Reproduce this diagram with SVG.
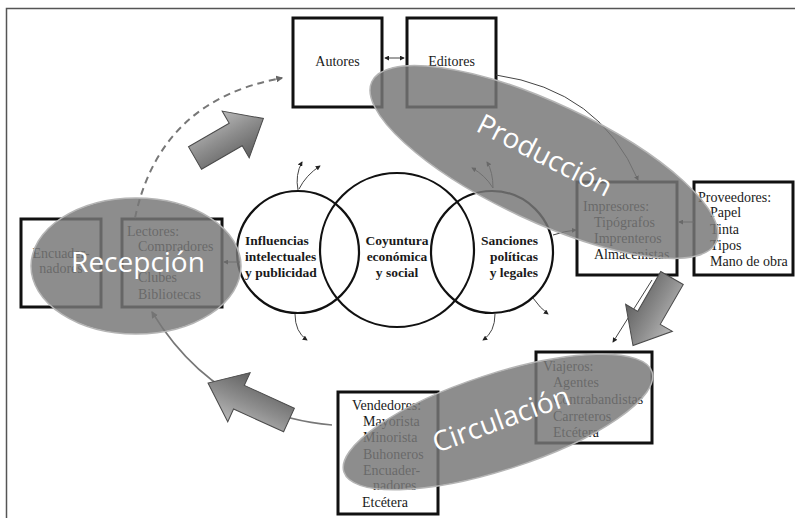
<svg xmlns="http://www.w3.org/2000/svg" width="795" height="518" viewBox="0 0 795 518">
<style>
.box{fill:#fff;stroke:#111;stroke-width:3}
.t{font-family:"Liberation Serif","Times New Roman",serif;font-size:14px;fill:#1a1a1a}
.tc{font-family:"Liberation Serif","Times New Roman",serif;font-size:13.5px;fill:#1a1a1a;font-weight:bold}
.circ{fill:none;stroke:#111;stroke-width:2.2}
.thin{fill:none;stroke:#444;stroke-width:1}
.arc{fill:none;stroke:#777;stroke-width:1.6}
.ell{fill:#777;fill-opacity:0.84;stroke:#b5b5b5;stroke-width:1.5}
.lab{font-family:"Open Sans","Liberation Sans",sans-serif;font-size:28px;fill:#fff}
.fat{fill:url(#g);stroke:#4a4a4a;stroke-width:1}
</style>
<defs>
<marker id="ah" viewBox="0 0 6 6" refX="5" refY="3" markerWidth="5" markerHeight="5" orient="auto-start-reverse" markerUnits="userSpaceOnUse"><path d="M0,0 L6,3 L0,6 z" fill="#222"/></marker>
<marker id="ag" viewBox="0 0 6 6" refX="5" refY="3" markerWidth="7" markerHeight="7" orient="auto" markerUnits="userSpaceOnUse"><path d="M0,0 L6,3 L0,6 z" fill="#666"/></marker>
<linearGradient id="g" x1="0" y1="0" x2="0" y2="1">
<stop offset="0" stop-color="#b8b8b8"/>
<stop offset="0.45" stop-color="#8e8e8e"/>
<stop offset="1" stop-color="#606060"/>
</linearGradient>
</defs>
<rect width="795" height="518" fill="#fff"/>
<path d="M6.5,518 V8.5 H795" fill="none" stroke="#555" stroke-width="1.5"/>

<g id="autores"><rect class="box" x="293" y="18" width="89" height="89"/><text class="t" x="337.5" y="66" text-anchor="middle">Autores</text></g>
<g id="editores"><rect class="box" x="407" y="18" width="89" height="89"/><text class="t" x="451.5" y="66" text-anchor="middle">Editores</text></g>

<g id="impresores"><rect class="box" x="577" y="182" width="100" height="93"/>
<text class="t" x="583" y="211">Impresores:</text>
<text class="t" x="594" y="227">Tipógrafos</text>
<text class="t" x="594" y="243">Imprenteros</text>
<text class="t" x="594" y="259">Almacenistas</text></g>

<g id="proveedores"><rect class="box" x="694" y="182" width="99" height="93"/>
<text class="t" x="698" y="202">Proveedores:</text>
<text class="t" x="710" y="217">Papel</text>
<text class="t" x="710" y="234">Tinta</text>
<text class="t" x="710" y="250">Tipos</text>
<text class="t" x="710" y="266">Mano de obra</text></g>

<g id="lectores"><rect class="box" x="122" y="219" width="100" height="88"/>
<text class="t" x="127" y="236">Lectores:</text>
<text class="t" x="138" y="251">Compradores</text>
<text class="t" x="138" y="282">Clubes</text>
<text class="t" x="138" y="299">Bibliotecas</text></g>

<g id="encuadernadores"><rect class="box" x="21" y="219" width="80" height="88"/>
<text class="t" x="61" y="258" text-anchor="middle">Encuader-</text>
<text class="t" x="61" y="273" text-anchor="middle">nadores</text></g>

<g id="vendedores"><rect class="box" x="338" y="392" width="100" height="122"/>
<text class="t" x="352" y="410">Vendedores:</text>
<text class="t" x="363" y="426">Mayorista</text>
<text class="t" x="363" y="442">Minorista</text>
<text class="t" x="363" y="459">Buhoneros</text>
<text class="t" x="363" y="475">Encuader-</text>
<text class="t" x="373" y="490">nadores</text>
<text class="t" x="362" y="507">Etcétera</text></g>

<g id="viajeros"><rect class="box" x="536" y="352" width="116" height="91"/>
<text class="t" x="543" y="371">Viajeros:</text>
<text class="t" x="553" y="387">Agentes</text>
<text class="t" x="553" y="404">Contrabandistas</text>
<text class="t" x="553" y="421">Carreteros</text>
<text class="t" x="553" y="437">Etcétera</text></g>

<g id="influencias"><circle class="circ" cx="298" cy="252" r="61"/>
<text class="tc" x="245" y="245">Influencias</text>
<text class="tc" x="245" y="261">intelectuales</text>
<text class="tc" x="245" y="277">y publicidad</text></g>
<g id="coyuntura"><circle class="circ" cx="397" cy="250" r="77"/>
<text class="tc" x="397" y="245" text-anchor="middle">Coyuntura</text>
<text class="tc" x="397" y="261" text-anchor="middle">económica</text>
<text class="tc" x="397" y="277" text-anchor="middle">y social</text></g>
<g id="sanciones"><circle class="circ" cx="492" cy="252" r="61"/>
<text class="tc" x="538" y="245" text-anchor="end">Sanciones</text>
<text class="tc" x="538" y="261" text-anchor="end">políticas</text>
<text class="tc" x="538" y="277" text-anchor="end">y legales</text></g>

<g id="connectors">
<line class="thin" x1="385" y1="58" x2="404" y2="58" marker-start="url(#ah)" marker-end="url(#ah)"/>
<path class="thin" d="M496,75 Q600,90 638,180" marker-end="url(#ah)"/>
<line class="thin" x1="694" y1="222" x2="679" y2="222" marker-end="url(#ah)"/>
<path class="thin" d="M553,235 Q565,231 576,230" marker-end="url(#ah)"/>
<line class="thin" x1="240" y1="262" x2="224" y2="262" marker-end="url(#ah)"/>
<line class="thin" x1="652" y1="280" x2="613" y2="342" marker-end="url(#ah)"/>
<path class="thin" d="M298,190 Q295,175 302,162" marker-end="url(#ah)"/>
<path class="thin" d="M299,189 Q306,175 320,166" marker-end="url(#ah)"/>
<path class="thin" d="M493,188 Q485,175 472,168" marker-end="url(#ah)"/>
<path class="thin" d="M493,188 Q493,172 487,162" marker-end="url(#ah)"/>
<path class="thin" d="M295,314 Q295,332 307,340" marker-end="url(#ah)"/>
<path class="thin" d="M495,314 Q495,332 483,340" marker-end="url(#ah)"/>
<path class="thin" d="M533,298 Q540,308 548,314" marker-end="url(#ah)"/>
<path d="M135,218 Q160,100 282,78" fill="none" stroke="#777" stroke-width="2" stroke-dasharray="7,5" marker-end="url(#ag)"/>
<path class="arc" d="M332,425 Q215,415 152,312" marker-end="url(#ag)"/>
</g>

<g id="produccion"><ellipse class="ell" cx="544" cy="162" rx="190" ry="59" transform="rotate(25 544 162)"/>
<text class="lab" text-anchor="middle" transform="translate(545,155) rotate(27)" y="10">Producción</text></g>
<g id="recepcion"><ellipse class="ell" cx="136" cy="266" rx="105" ry="68"/>
<text class="lab" x="138" y="272" text-anchor="middle">Recepción</text></g>
<g id="circulacion"><ellipse class="ell" cx="498" cy="422" rx="162" ry="48" transform="rotate(-18 498 422)"/>
<text class="lab" text-anchor="middle" transform="translate(501,419) rotate(-20)" y="10">Circulación</text></g>

<g id="fat-arrows">
<path class="fat" transform="translate(195,158) rotate(-30)" d="M0,-13 L47,-13 L47,-27 L79,0 L47,27 L47,13 L0,13 Z"/>
<path class="fat" transform="translate(672,278) rotate(120)" d="M0,-13 L46,-13 L46,-27 L78,0 L46,27 L46,13 L0,13 Z"/>
<path class="fat" transform="translate(289,420) rotate(204.5)" d="M0,-13 L55,-13 L55,-27 L89,0 L55,27 L55,13 L0,13 Z"/>
</g>
</svg>
